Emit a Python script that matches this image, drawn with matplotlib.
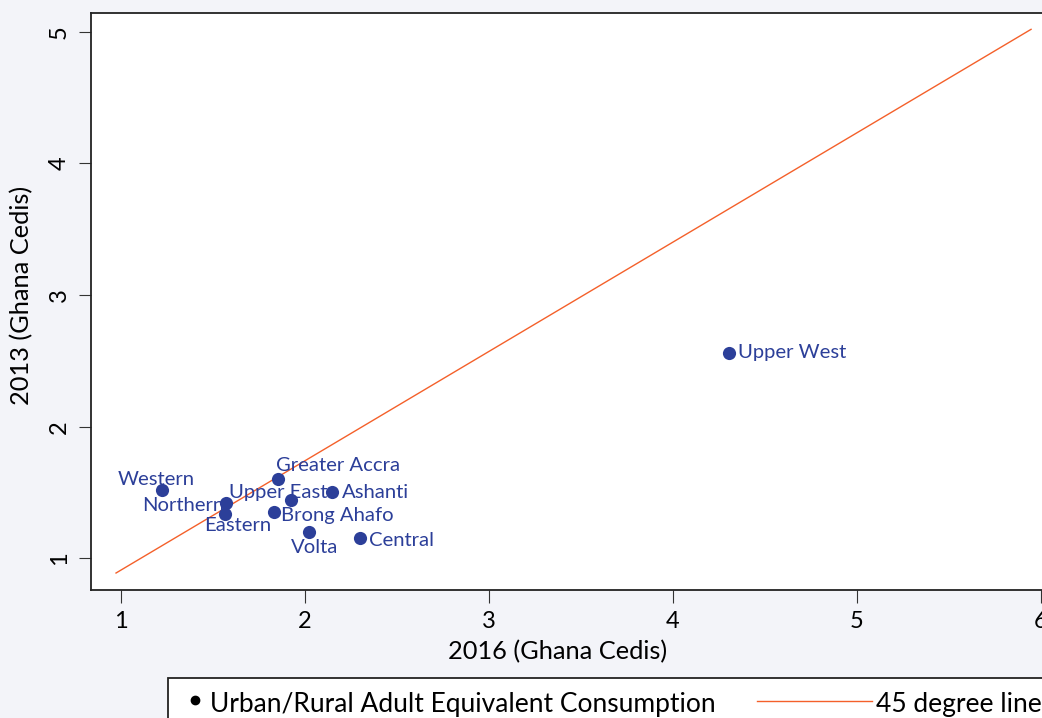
import matplotlib
matplotlib.use('Agg')
import matplotlib.pyplot as plt
from matplotlib.patches import Rectangle
from matplotlib.lines import Line2D

plt.rcParams['font.family'] = ['Lato', 'DejaVu Sans']

# regions, 2016 vs 2013 (Ghana Cedis)
regions = ['Western', 'Northern', 'Eastern', 'Greater Accra', 'Upper East',
           'Brong Ahafo', 'Ashanti', 'Volta', 'Central', 'Upper West']
x_2016 = [1.224, 1.569, 1.565, 1.852, 1.924, 1.833, 2.145, 2.023, 2.300, 4.306]
y_2013 = [1.519, 1.423, 1.335, 1.603, 1.446, 1.354, 1.506, 1.203, 1.158, 2.557]

# 45 degree line end points
line_x = [0.973, 5.946]
line_y = [0.889, 5.018]

x_ticks = [1, 2, 3, 4, 5, 6]
y_ticks = [1, 2, 3, 4, 5]

# label placement (offset pixels, alignment)
label_pos = {
    'Western': (-6, 12, 'center'),
    'Northern': (-1, -1, 'right'),
    'Eastern': (13, -10, 'center'),
    'Greater Accra': (-2, 15, 'left'),
    'Upper East': (-62, 9, 'left'),
    'Brong Ahafo': (7, -2, 'left'),
    'Ashanti': (10, 1, 'left'),
    'Volta': (5, -14, 'center'),
    'Central': (9, -1, 'left'),
    'Upper West': (9, 2, 'left'),
}

bg = '#f3f4f9'
blue = '#2c3f99'
orange = '#f4602a'

fig = plt.figure(figsize=(10.42, 7.18), dpi=100)
fig.patch.set_facecolor(bg)
ax = fig.add_axes([91 / 1042, 1 - 590 / 718, (1075 - 91) / 1042, (590 - 13) / 718])
ax.set_facecolor('white')

ax.plot(line_x, line_y, color=orange, lw=1.0, zorder=2)
ax.scatter(x_2016, y_2013, s=90, color=blue, zorder=3, linewidths=0)

for name, xv, yv in zip(regions, x_2016, y_2013):
    dx, dy, ha = label_pos[name]
    ax.annotate(name, (xv, yv), xytext=(dx, dy), textcoords='offset pixels',
                ha=ha, va='center_baseline', color=blue, fontsize=14.6)

ax.set_xlim(0.837, 1 + (1075 - 121) / 184)
ax.set_ylim(0.760, 5.142)
ax.set_xticks(x_ticks)
ax.set_yticks(y_ticks)
ax.tick_params(direction='out', length=9, width=0.8, color='#333333',
               labelsize=17, pad=6)
for lab in ax.get_yticklabels():
    lab.set_rotation(90)
    lab.set_va('center')
for sp in ax.spines.values():
    sp.set_color('#222222')
    sp.set_linewidth(1.3)

ax.set_xlabel('2016 (Ghana Cedis)', fontsize=18.3)
ax.set_ylabel('2013 (Ghana Cedis)', fontsize=18.3)
ax.xaxis.set_label_coords((558 - 91) / (1075 - 91), -(652 - 590) / 577)
ax.yaxis.set_label_coords(-(91 - 22) / (1075 - 91), (590 - 295) / 577)
ax.xaxis.label.set_va('center')
ax.yaxis.label.set_va('center')

# legend box, partly cut off like the source
fig.add_artist(Rectangle((168 / 1042, 1 - 740 / 718), (1100 - 168) / 1042, 62 / 718,
                         transform=fig.transFigure, facecolor='white',
                         edgecolor='#222222', lw=1.3))
fig.add_artist(Line2D([195 / 1042], [1 - 700 / 718], marker='o', markersize=6,
                      color='black', transform=fig.transFigure))
fig.text(210 / 1042, 1 - 702 / 718, 'Urban/Rural Adult Equivalent Consumption',
         fontsize=19, va='center_baseline', ha='left')
fig.add_artist(Line2D([757 / 1042, 872 / 1042], [1 - 701 / 718] * 2, color=orange,
                      lw=1.0, transform=fig.transFigure))
fig.text(876 / 1042, 1 - 702 / 718, '45 degree line', fontsize=19,
         va='center_baseline', ha='left')

fig.savefig('out.png', dpi=100, facecolor=bg)
